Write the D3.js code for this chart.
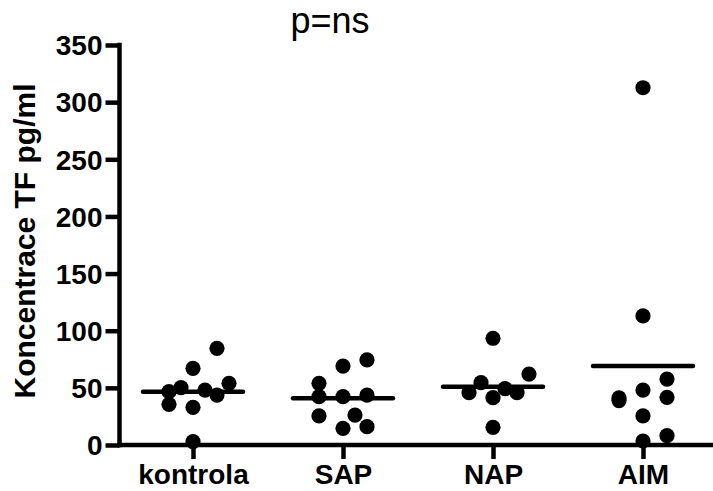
<!DOCTYPE html>
<html>
<head>
<meta charset="utf-8">
<script src="https://cdn.jsdelivr.net/npm/d3@7"></script>
<style>
  html, body { margin: 0; padding: 0; background: #fff; }
  svg { display: block; }
  text { font-family: "Liberation Sans", Arial, sans-serif; fill: #000; }
</style>
</head>
<body>
<svg id="chart" width="713" height="491"></svg>
<script>
const title = "p=ns";
const yTitle = "Koncentrace TF pg/ml";
const categories = ["kontrola", "SAP", "NAP", "AIM"];
const yTicks = [0, 50, 100, 150, 200, 250, 300, 350];

// values per group (pg/ml) and horizontal scatter column of each point
const kontrolaValues = [84.6, 67.1, 50.2, 46.7, 48.1, 54.0, 43.7, 35.6, 33.0, 2.9];
const kontrolaSlots  = [2, 0, -1, -2, 1, 3, 2, -2, 0, 0];
const sapValues = [74.4, 69.1, 54.0, 42.3, 42.3, 43.7, 25.4, 26.2, 14.6, 16.0];
const sapSlots  = [2, 0, -2, -2, 0, 2, -2, 1, 0, 2];
const napValues = [93.4, 62.1, 54.5, 45.8, 49.3, 45.8, 41.4, 15.5];
const napSlots  = [0, 3, -1, -2, 1, 2, 0, 0];
const aimValues = [312.6, 112.9, 41.3, 38.9, 48.1, 57.7, 41.7, 25.4, 3.5, 8.2];
const aimSlots  = [0, 0, -2, -2, 0, 2, 2, 0, 0, 2];

const groups = [
  { name: "kontrola", values: kontrolaValues, slots: kontrolaSlots },
  { name: "SAP", values: sapValues, slots: sapSlots },
  { name: "NAP", values: napValues, slots: napSlots },
  { name: "AIM", values: aimValues, slots: aimSlots }
];

const svg = d3.select("#chart");
const x0 = 119.5, xEnd = 713;
const y = d3.scaleLinear().domain([0, 350]).range([445, 45]);
const x = d3.scalePoint().domain(categories).range([118, 718]).padding(0.5);
const slotW = 12;
const r = 7.6;

// title
svg.append("text").attr("x", 330).attr("y", 33).attr("text-anchor", "middle")
  .style("font-size", "36px").text(title);

// y axis
const yAxis = d3.axisLeft(y).tickValues(yTicks).tickSize(14).tickPadding(3);
const gy = svg.append("g").attr("transform", `translate(${x0},0)`).call(yAxis);
gy.select(".domain").remove();
gy.selectAll(".tick line").attr("stroke", "#000").attr("stroke-width", 4.5);
gy.selectAll(".tick text").style("font-size", "28px").style("font-weight", "bold")
  .attr("font-family", null).attr("dy", "0.35em");
svg.append("line").attr("x1", x0).attr("x2", x0).attr("y1", y(350) - 2.2).attr("y2", y(0) + 2.2)
  .attr("stroke", "#000").attr("stroke-width", 4.5);

// x axis
const xAxis = d3.axisBottom(x).tickSize(14).tickPadding(5);
const gx = svg.append("g").attr("transform", `translate(0,${y(0)})`).call(xAxis);
gx.select(".domain").remove();
gx.selectAll(".tick line").attr("stroke", "#000").attr("stroke-width", 4.5);
gx.selectAll(".tick text").style("font-size", "28px").style("font-weight", "bold")
  .attr("font-family", null).attr("dy", "0.71em");
svg.append("line").attr("x1", x0 - 2.2).attr("x2", xEnd).attr("y1", y(0)).attr("y2", y(0))
  .attr("stroke", "#000").attr("stroke-width", 4.5);

// y axis title
svg.append("text").attr("transform", `translate(35,241) rotate(-90)`)
  .attr("text-anchor", "middle").style("font-size", "30px").style("font-weight", "bold")
  .text(yTitle);

// points
groups.forEach(g => {
  const pts = g.values.map((v, i) => ({ v, s: g.slots[i] }));
  svg.append("g").selectAll("circle").data(pts).join("circle")
    .attr("cx", d => x(g.name) + d.s * slotW)
    .attr("cy", d => y(d.v))
    .attr("r", r).attr("fill", "#000");
  const m = d3.mean(g.values);
  svg.append("line")
    .attr("x1", x(g.name) - 50).attr("x2", x(g.name) + 50)
    .attr("y1", y(m)).attr("y2", y(m))
    .attr("stroke", "#000").attr("stroke-width", 4.5).attr("stroke-linecap", "round");
});
</script>
</body>
</html>
